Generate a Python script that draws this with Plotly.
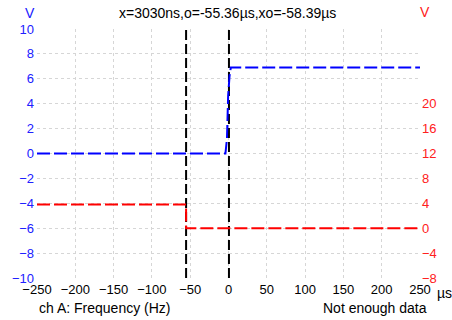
import plotly.graph_objects as go

# Data
blue_x = [-250, -4, -2, -0.5, 1.3, 3, 250]
blue_y = [0, 0, 1.2, 4.6, 6.2, 6.9, 6.9]
red_x = [-250, -55.36, -55.36, 250]
red_y = [3.8, 3.8, 0, 0]
cursor_x = [-55.36, 0.6]
x_ticks = [-250, -200, -150, -100, -50, 0, 50, 100, 150, 200, 250]
left_ticks = [-10, -8, -6, -4, -2, 0, 2, 4, 6, 8, 10]
right_ticks = [-8, -4, 0, 4, 8, 12, 16, 20]

FONT = "Liberation Sans, Arial, sans-serif"
GRID = "#d6d6d6"

fig = go.Figure()
for cx in cursor_x:
    fig.add_trace(go.Scatter(x=[cx, cx], y=[-10, 10], mode="lines",
                             line=dict(color="black", width=2, dash="10px,4px"),
                             showlegend=False, hoverinfo="skip"))
fig.add_trace(go.Scatter(x=blue_x, y=blue_y, mode="lines",
                         line=dict(color="#0000ff", width=2, dash="13px,4px"),
                         showlegend=False))
fig.add_trace(go.Scatter(x=red_x, y=red_y, mode="lines", yaxis="y2",
                         line=dict(color="#ff0000", width=2, dash="13px,4px"),
                         showlegend=False))

fig.update_layout(
    width=452, height=320,
    margin=dict(l=34, r=32, t=29, b=42),
    paper_bgcolor="white", plot_bgcolor="white",
    font=dict(family=FONT, size=13, color="black"),
    xaxis=dict(range=[-250, 250], tickvals=x_ticks, showgrid=True,
               gridcolor=GRID, griddash="dot", gridwidth=1, zeroline=False,
               showline=False, ticks="", tickfont=dict(size=13, color="black"),
               ticklabelstandoff=2),
    yaxis=dict(range=[-10, 10], tickvals=left_ticks, showgrid=True,
               gridcolor=GRID, griddash="dot", gridwidth=1, zeroline=False,
               showline=False, ticks="", tickfont=dict(size=13, color="#2020ff"),
               ticklabelstandoff=2),
    yaxis2=dict(range=[-8, 32], tickvals=right_ticks, overlaying="y", side="right",
                showgrid=False, zeroline=False, showline=False, ticks="",
                tickfont=dict(size=13, color="#ff2020"), ticklabelstandoff=1),
    annotations=[
        dict(text="x=3030ns,o=-55.36µs,xo=-58.39µs", x=226, y=13, showarrow=False,
             font=dict(size=14, color="black")),
        dict(text="V", x=27, y=13, showarrow=False, font=dict(size=14, color="#2020ff")),
        dict(text="V", x=425, y=12, showarrow=False, font=dict(size=14, color="#ff2020")),
        dict(text="µs", x=445, y=293, showarrow=False, font=dict(size=14, color="black")),
        dict(text="ch A: Frequency (Hz)", x=103, y=308, showarrow=False,
             font=dict(size=14, color="black")),
        dict(text="Not enough data", x=375, y=308, showarrow=False,
             font=dict(size=14, color="black")),
    ],
)

# convert pixel annotation positions to paper coords
pl, pr, pt, pb = 34, 420, 29, 278
for a in fig.layout.annotations:
    px, py = a.x, a.y
    a.xref = "paper"; a.yref = "paper"
    a.x = (px - pl) / (pr - pl)
    a.y = (pb - py) / (pb - pt)
    a.xanchor = "center"; a.yanchor = "middle"

fig.write_html("out.html")
